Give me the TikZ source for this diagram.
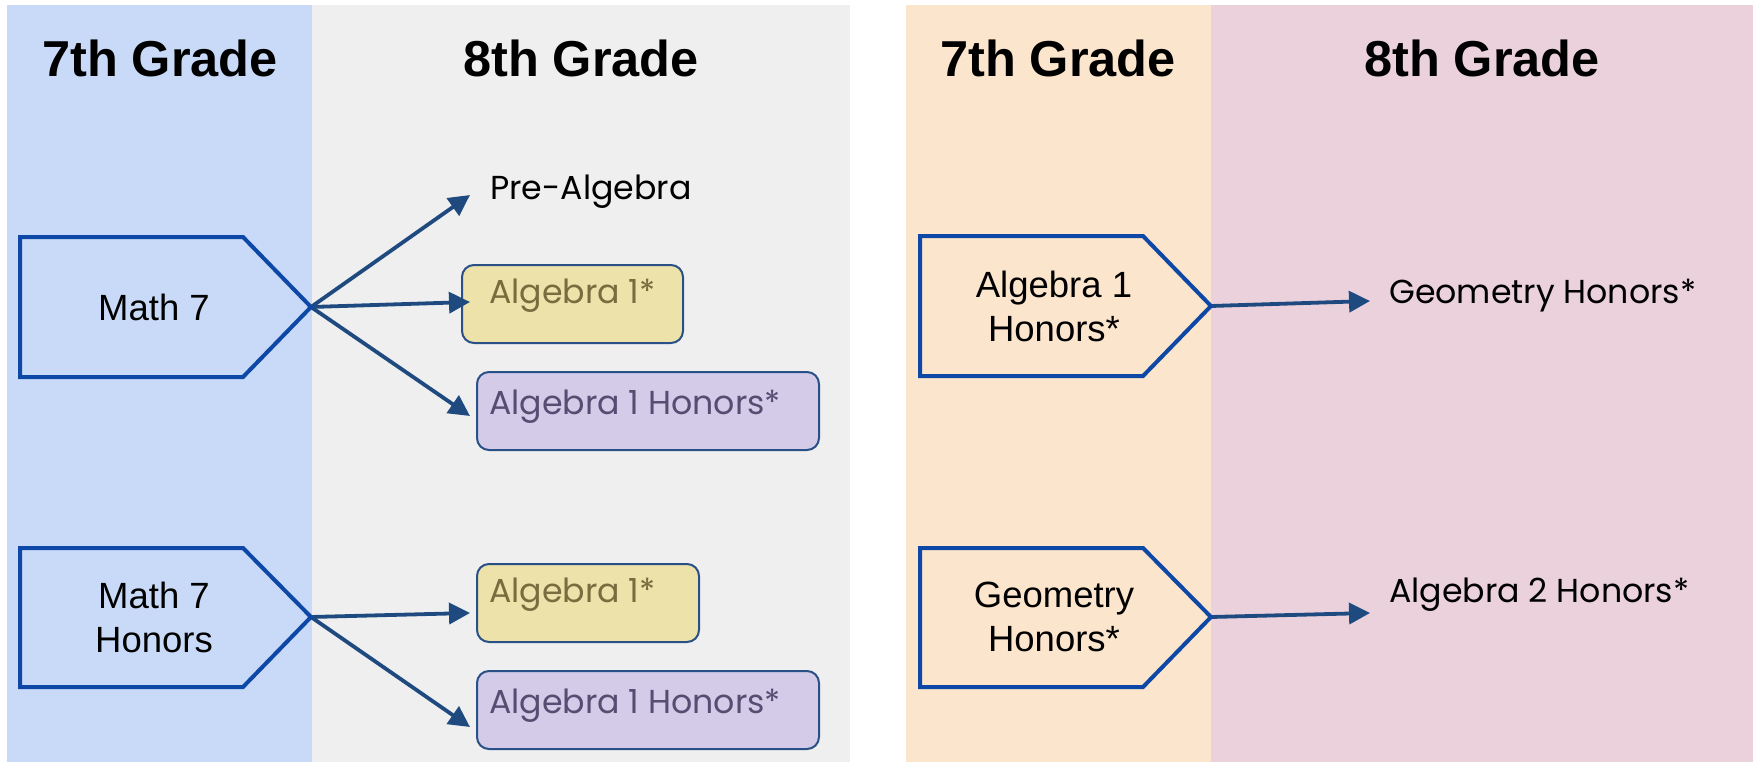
\documentclass[tikz,border=0pt]{standalone}
\usepackage{fontspec}
\setmainfont{Liberation Sans}
\newfontfamily\geofont{Poppins}
\usetikzlibrary{arrows.meta}
\definecolor{colblue}{HTML}{C9DAF8}
\definecolor{colgray}{HTML}{EFEFEF}
\definecolor{colorange}{HTML}{FCE5CD}
\definecolor{colpink}{HTML}{EAD1DC}
\definecolor{pentline}{HTML}{0E48A6}
\definecolor{arrline}{HTML}{1F4A80}
\definecolor{boxline}{HTML}{2A5088}
\definecolor{yfill}{HTML}{EDE2A9}
\definecolor{ytext}{HTML}{776D3F}
\definecolor{pfill}{HTML}{D3CBE8}
\definecolor{ptext}{HTML}{574D72}
\begin{document}
\begin{tikzpicture}[x=1pt, y=-1pt,
  head/.style={font=\fontsize{50.5}{60}\selectfont\bfseries, anchor=base, inner sep=0pt},
  pent/.style={draw=pentline, line width=4pt},
  pname/.style={font=\fontsize{36.5}{44}\selectfont, align=center, inner sep=0pt},
  lab/.style={font=\geofont\fontsize{33.2}{40}\selectfont, anchor=base west, inner sep=0pt},
  arr/.style={draw=arrline, line width=3.8pt, -{Triangle[length=21pt,width=21pt]}},
  ybox/.style={draw=boxline, line width=2pt, rounded corners=12pt, fill=yfill},
  pbox/.style={draw=boxline, line width=2pt, rounded corners=12pt, fill=pfill}]
  \fill[white] (0,0) rectangle (1753,762);
  \useasboundingbox (0,0) rectangle (1753,762);
  % columns
  \fill[colblue] (7,5) rectangle (312,762);
  \fill[colgray] (312,5) rectangle (850,762);
  \fill[colorange] (906,5) rectangle (1211,762);
  \fill[colpink] (1211,5) rectangle (1753,762);
  \node[head] (g7l) at (160,77) {7th Grade};
  \node[head] (g8l) at (581,77) {8th Grade};
  \node[head] (g7r) at (1058,77) {7th Grade};
  \node[head] (g8r) at (1482,77) {8th Grade};
  % course boxes
  \draw[ybox] (462,265) rectangle (683,343);
  \draw[pbox] (477,372) rectangle (819,450);
  \draw[ybox] (477,564) rectangle (699,642);
  \draw[pbox] (477,671) rectangle (819,749);
  % pentagon tips and arrow ends
  \coordinate (m7) at (311,307);
  \coordinate (m7h) at (311,617);
  \coordinate (a1h) at (1211,306);
  \coordinate (geo) at (1211,617);
  \coordinate (toPre) at (470,195);
  \coordinate (toA) at (470,302);
  \coordinate (toAH) at (470,416);
  \coordinate (toB) at (470,613);
  \coordinate (toBH) at (470,727);
  \coordinate (toGeo) at (1370,301);
  \coordinate (toAlg) at (1370,613);
  \draw[arr] (m7)--(toPre);
  \draw[arr] (m7)--(toA);
  \draw[arr] (m7)--(toAH);
  \draw[arr] (m7h)--(toB);
  \draw[arr] (m7h)--(toBH);
  \draw[arr] (a1h)--(toGeo);
  \draw[arr] (geo)--(toAlg);
  % pentagons
  \draw[pent] (20,237)--(243,237)--(m7)--(243,377)--(20,377)--cycle;
  \draw[pent] (20,548)--(243,548)--(m7h)--(243,687)--(20,687)--cycle;
  \draw[pent] (920,236)--(1143,236)--(a1h)--(1143,376)--(920,376)--cycle;
  \draw[pent] (920,548)--(1143,548)--(geo)--(1143,687)--(920,687)--cycle;
  \node[pname] (math7) at (154,307) {Math 7};
  \node[pname] (math7h) at (154,617) {Math 7\\Honors};
  \node[pname] (alg1h) at (1054,306) {Algebra 1\\Honors*};
  \node[pname] (geoh) at (1054,617) {Geometry\\Honors*};
  % 8th grade courses
  \node[lab] (prealg) at (490,200) {Pre-Algebra};
  \node[lab, text=ytext] (alg1a) at (489,303) {Algebra 1*};
  \node[lab, text=ptext] (alg1ha) at (489,414) {Algebra 1 Honors*};
  \node[lab, text=ytext] (alg1b) at (489,602) {Algebra 1*};
  \node[lab, text=ptext] (alg1hb) at (489,713) {Algebra 1 Honors*};
  \node[lab] (geohr) at (1389,303) {Geometry Honors*};
  \node[lab] (alg2h) at (1389,602) {Algebra 2 Honors*};
\end{tikzpicture}
\end{document}
